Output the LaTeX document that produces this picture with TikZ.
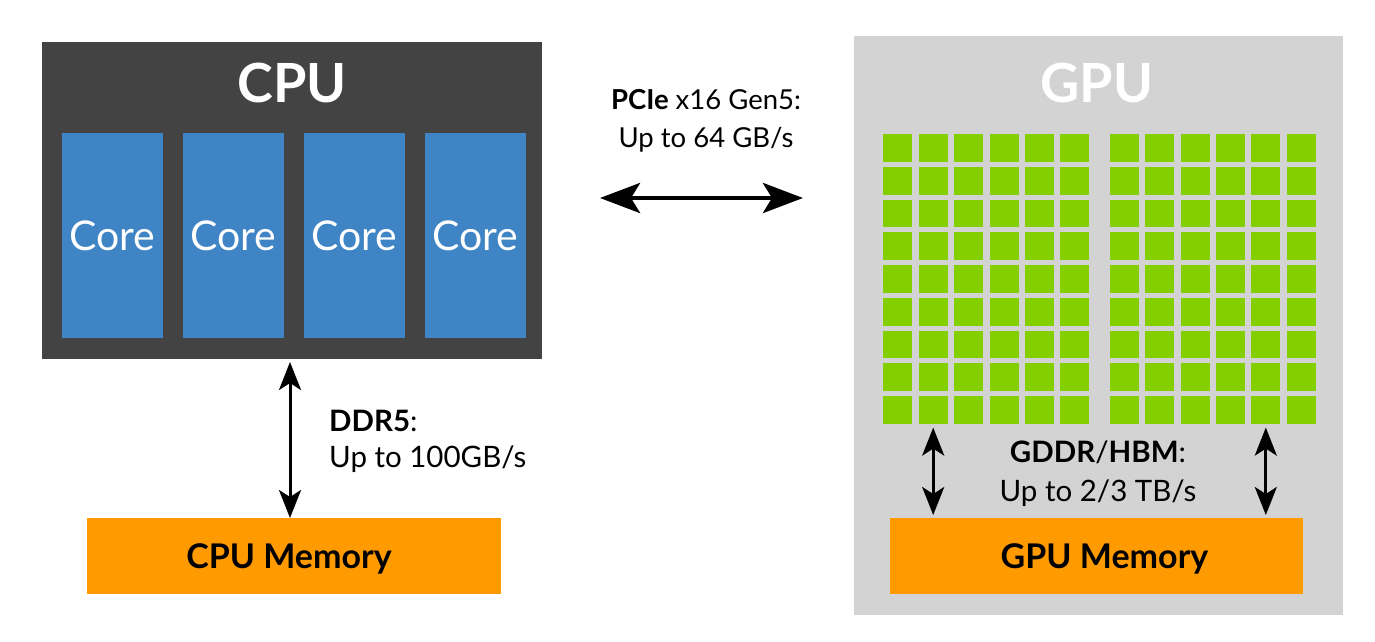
\documentclass[tikz,border=0pt]{standalone}
\usepackage{fontspec}
\setmainfont{Lato}
\usetikzlibrary{arrows.meta,calc}
\definecolor{cpugray}{HTML}{434343}
\definecolor{coreblue}{HTML}{3F84C5}
\definecolor{gpugray}{HTML}{D3D3D3}
\definecolor{smgreen}{HTML}{84CF00}
\definecolor{memorange}{HTML}{FF9A00}
\begin{document}
\begin{tikzpicture}[x=1pt,y=-1pt,
  box/.style={draw=none, inner sep=0pt, outer sep=0pt, anchor=north west},
  cpubox/.style={box, fill=cpugray},
  gpubox/.style={box, fill=gpugray},
  corebox/.style={box, fill=coreblue, minimum width=101pt, minimum height=205pt},
  smbox/.style={box, fill=smgreen, minimum width=29pt, minimum height=27.7pt},
  membox/.style={box, fill=memorange, minimum height=76pt},
  title/.style={text=white, font=\bfseries\fontsize{54}{60}\selectfont, inner sep=0pt},
  coretext/.style={text=white, font=\fontsize{41}{45}\selectfont, inner sep=0pt},
  memtext/.style={text=black, font=\bfseries\fontsize{34}{40}\selectfont, inner sep=0pt},
  label/.style={text=black, font=\fontsize{28.5}{37}\selectfont, inner sep=0pt},
  bigarrow/.style={line width=4.5pt, {Stealth[length=40pt,width=30pt,inset=9pt]}-{Stealth[length=40pt,width=30pt,inset=9pt]}},
  link/.style={line width=3pt, {Stealth[length=28pt,width=22pt,inset=7pt]}-{Stealth[length=28pt,width=22pt,inset=7pt]}}
]
\useasboundingbox[fill=white] (0,0) rectangle (1375,641);

% CPU
\node[cpubox, minimum width=500pt, minimum height=317pt] (cpu) at (42,42) {};
\node[title] (cputitle) at (292,83) {CPU};
\foreach \i in {0,1,2,3}{
  \node[corebox] (core\i) at ({62+121*\i},133) {};
  \node[coretext] (coretext\i) at (core\i.center) {Core};
}
\node[membox, minimum width=414pt] (cpumem) at (87,518) {};
\node[memtext] (cpumemtext) at ($(cpumem.center)+(-5,3)$) {CPU Memory};

% GPU
\node[gpubox, minimum width=489pt, minimum height=579pt] (gpu) at (854,36) {};
\node[title] (gputitle) at (1097,83) {GPU};
\foreach \r in {0,...,8}{
  \foreach \c in {0,...,5}{
    \node[smbox] (smL-\r-\c) at ({883.3+35.4*\c},{134.3+32.7*\r}) {};
    \node[smbox] (smR-\r-\c) at ({1109.7+35.4*\c},{134.3+32.7*\r}) {};
  }
}
\node[membox, minimum width=413pt] (gpumem) at (890,518) {};
\node[memtext] (gpumemtext) at ($(gpumem.center)+(8,3)$) {GPU Memory};

% PCIe link
\coordinate (pcieL) at (600,198);
\coordinate (pcieR) at (803,198);
\draw[bigarrow] (pcieL) -- (pcieR);
\node[label, align=center, font=\fontsize{27.5}{38}\selectfont] (pcielabel) at (706,121) {\textbf{PCIe} x16 Gen5:\\Up to 64 GB/s};

% DDR link
\coordinate (ddrtop) at (290,359);
\draw[link, shorten <=3pt] (ddrtop) -- (ddrtop |- cpumem.north);
\node[label, align=left, anchor=west, font=\fontsize{29.5}{36}\selectfont] (ddrlabel) at (329,441) {\textbf{DDR5}:\\Up to 100GB/s};

% GDDR links
\draw[link, shorten <=4pt, shorten >=3pt] (smL-8-1.south) -- (smL-8-1.south |- gpumem.north);
\draw[link, shorten <=4pt, shorten >=3pt] (smR-8-4.south) -- (smR-8-4.south |- gpumem.north);
\node[label, align=center, font=\fontsize{29.5}{39}\selectfont] (gddrlabel) at (1098,474) {\textbf{GDDR}/\textbf{HBM}:\\Up to 2/3 TB/s};
\end{tikzpicture}
\end{document}
